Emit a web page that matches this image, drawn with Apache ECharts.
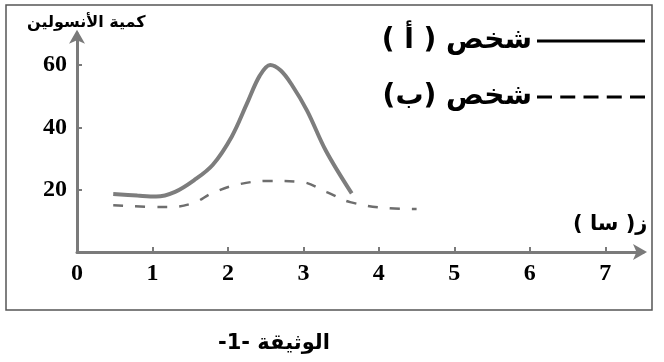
<!DOCTYPE html>
<html>
<head>
<meta charset="utf-8">
<script src="https://cdn.jsdelivr.net/npm/echarts@6/dist/echarts.min.js"></script>
<style>html,body{margin:0;padding:0;background:#fff}#c{width:664px;height:362px}</style>
</head>
<body>
<div id="c"></div>
<script>
// Person A (solid) — time in hours, insulin amount
var timeA = [0.48, 0.8, 1.05, 1.3, 1.55, 1.8, 2.05, 2.25, 2.42, 2.56, 2.7, 2.85, 3.05, 3.3, 3.64];
var insulinA = [18.6, 18.1, 17.8, 19.3, 23, 28, 37, 47.5, 56.5, 60, 58.2, 53.5, 45.3, 32.4, 18.8];
// Person B (dashed)
var timeB = [0.48, 1.19, 1.54, 1.8, 2.16, 2.56, 2.96, 3.31, 3.62, 4.12, 4.5];
var insulinB = [15, 14.4, 15.7, 19, 21.8, 22.8, 22.5, 19.2, 16, 14.1, 13.8];
var xTickLabels = [0, 1, 2, 3, 4, 5, 6, 7];
var yTickLabels = [20, 40, 60];
var nameA = '\u200Fشخص ( أ )\u200F';
var nameB = '\u200Fشخص (ب)\u200F';
var yTitle = 'كمية الأنسولين';
var xTitle = '\u200Fز( سا )\u200F';
var caption = '\u200Fالوثيقة -1-\u200F';

function pairs(xs, ys){ return xs.map(function(x,i){ return [x, ys[i]]; }); }

var solidIcon = 'path://M0,0h108v3h-108z';
var dashIcon = 'path://M0,0h15v3h-15z M23.25,0h15v3h-15z M46.5,0h15v3h-15z M69.75,0h15v3h-15z M93,0h15v3h-15z';

var axisColor = '#7a7a7a';
var chart = echarts.init(document.getElementById('c'), null, {renderer:'canvas'});
chart.setOption({
  animation: false,
  backgroundColor: '#fff',
  grid: {left: 77, right: 21, top: 33.8, bottom: 110, containLabel: false},
  xAxis: {
    type: 'value', min: 0, max: 7.5, interval: 1,
    axisLine: {show: true, lineStyle: {color: axisColor, width: 3}, symbol: ['none','arrow'], symbolSize: [12, 14], symbolOffset: [0, 4]},
    axisTick: {show: true, inside: true, length: 5, lineStyle: {color: axisColor, width: 2}, customValues: xTickLabels.slice(1)},
    axisLabel: {customValues: xTickLabels, margin: 10, color: '#000', fontFamily: 'Liberation Serif', fontWeight: 'bold', fontSize: 24},
    splitLine: {show: false}
  },
  yAxis: {
    type: 'value', min: 0, max: 70, interval: 20,
    axisLine: {show: true, lineStyle: {color: axisColor, width: 3}, symbol: ['none','arrow'], symbolSize: [12, 14], symbolOffset: [0, 4]},
    axisTick: {show: true, inside: true, length: 5, lineStyle: {color: axisColor, width: 2}, customValues: yTickLabels},
    axisLabel: {customValues: yTickLabels, margin: 10, color: '#000', fontFamily: 'Liberation Serif', fontWeight: 'bold', fontSize: 24},
    splitLine: {show: false}
  },
  legend: {
    orient: 'vertical', right: 19, top: 21, align: 'right', padding: 0,
    itemWidth: 108, itemHeight: 3, itemGap: 16,
    textStyle: {fontFamily: 'DejaVu Sans', fontWeight: 'bold', fontSize: 28, color: '#000', lineHeight: 40},
    data: [
      {name: nameA, icon: solidIcon, itemStyle: {color: '#000', borderWidth: 0}},
      {name: nameB, icon: dashIcon, itemStyle: {color: '#000', borderWidth: 0}}
    ]
  },
  graphic: [
    {type: 'rect', shape: {x: 6, y: 5, width: 646, height: 305}, style: {fill: 'none', stroke: '#555', lineWidth: 1.5}, z: -1},
    {type: 'text', left: 27, top: 15, style: {text: yTitle, font: 'bold 16px "DejaVu Sans"', fill: '#000'}},
    {type: 'text', left: 573, top: 214, style: {text: xTitle, font: 'bold 21px "DejaVu Sans"', fill: '#000'}},
    {type: 'text', left: 218, top: 333, style: {text: caption, font: 'bold 21px "DejaVu Sans"', fill: '#000'}}
  ],
  series: [
    {name: nameA, type: 'line', data: pairs(timeA, insulinA), smooth: 0.35, symbol: 'none',
     lineStyle: {color: '#7d7d7d', width: 4}},
    {name: nameB, type: 'line', data: pairs(timeB, insulinB), smooth: 0.4, symbol: 'none',
     lineStyle: {color: '#6e6e6e', width: 2.5, type: [10, 12]}}
  ]
});
</script>
</body>
</html>
